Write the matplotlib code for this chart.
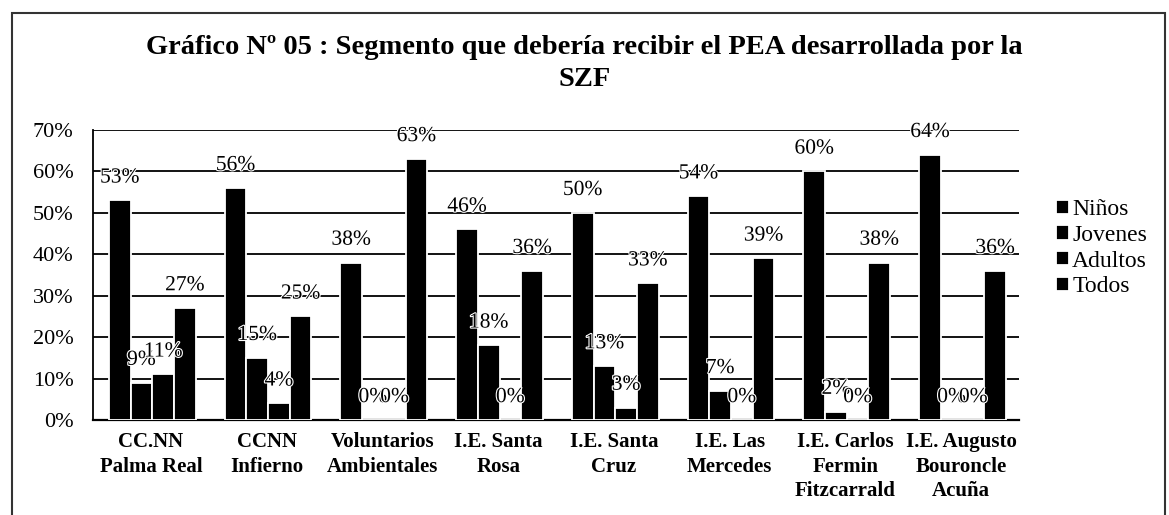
import numpy as np
import matplotlib.pyplot as plt
import matplotlib.patheffects as pe
from matplotlib.patches import Rectangle

plt.rcParams['font.family'] = ['Liberation Serif', 'DejaVu Serif']

#datos
categorias = ['CC.NN\nPalma Real', 'CCNN\nInfierno', 'Voluntarios\nAmbientales',
              'I.E. Santa\nRosa', 'I.E. Santa\nCruz', 'I.E. Las\nMercedes',
              'I.E. Carlos\nFermin\nFitzcarrald', 'I.E. Augusto\nBouroncle\nAcuña']
series = ['Niños', 'Jovenes', 'Adultos', 'Todos']
ninos = [53, 56, 38, 46, 50, 54, 60, 64]
jovenes = [9, 15, 0, 18, 13, 7, 2, 0]
adultos = [11, 4, 0, 0, 3, 0, 0, 0]
todos = [27, 25, 63, 36, 33, 39, 38, 36]
valores = [ninos, jovenes, adultos, todos]

fig = plt.figure(figsize=(11.69, 5.15), dpi=100)
ax = fig.add_axes([0.0796, 0.1845, 0.7921, 0.5631])

x = np.arange(len(categorias))
ancho = 0.1875
for i, (nombre, v) in enumerate(zip(series, valores)):
    pos = x + (i - 1.5) * ancho + 0.012
    ax.bar(pos, v, ancho, color='black', edgecolor='white', linewidth=1.3,
           label=nombre, zorder=3)
    for px, val in zip(pos, v):
        t = ax.text(px, val + 5.4, f'{val}%', ha='center', va='center',
                    fontsize=15.5, zorder=4)
        #borde blanco para que se vea encima de las barras
        t.set_path_effects([pe.withStroke(linewidth=1.6, foreground='white')])

ax.set_ylim(0, 70)
ax.set_xlim(-0.5, len(categorias) - 0.5)
ax.set_yticks(range(0, 71, 10))
ax.set_yticklabels([f'{t}%' for t in range(0, 71, 10)], fontsize=16)
ax.set_xticks(x)
ax.set_xticklabels(categorias, fontsize=15, fontweight='bold', linespacing=1.3)
ax.tick_params(axis='y', length=0, pad=14)
ax.tick_params(axis='x', length=0, pad=9)
ax.yaxis.grid(True, color='black', linewidth=1.3, zorder=0)
for s in ['top', 'right']:
    ax.spines[s].set_visible(False)
ax.spines['left'].set_linewidth(1.3)
ax.spines['bottom'].set_linewidth(1.6)

fig.legend(loc='center left', bbox_to_anchor=(0.903, 0.518), frameon=False,
           fontsize=17, handlelength=0.55, handleheight=0.55, handletextpad=0.15,
           labelspacing=0.2, borderpad=0, borderaxespad=0)

fig.text(0.5, 0.907, 'Gráfico Nº 05 : Segmento que debería recibir el PEA desarrollada por la',
         ha='center', va='center', fontsize=20.5, fontweight='bold')
fig.text(0.5, 0.846, 'SZF', ha='center', va='center', fontsize=20.5, fontweight='bold')

#marco exterior
fig.patches.append(Rectangle((0.01, -0.01), 0.9866, 0.985, transform=fig.transFigure,
                             fill=False, edgecolor='#333333', linewidth=1.5))

plt.savefig('out.png', dpi=100)
